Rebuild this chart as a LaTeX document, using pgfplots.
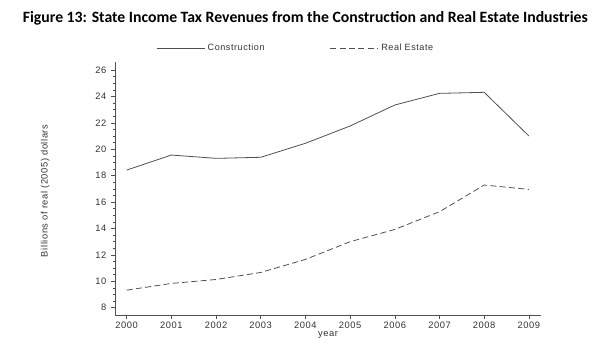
\documentclass[border=0pt]{standalone}
\usepackage{fontspec}
\setmainfont{Liberation Sans}
\newfontfamily\titlefont{Carlito}
\newfontfamily\axfont[LetterSpace=6]{Liberation Sans}
\usepackage{pgfplots}
\pgfplotsset{compat=1.18}
\definecolor{ln}{HTML}{505050}
\definecolor{ax}{HTML}{505050}
\definecolor{tx}{HTML}{333333}
\begin{document}
\begin{tikzpicture}
\useasboundingbox (0pt,0pt) rectangle (450pt,265.5pt);
\node[font=\titlefont\bfseries\fontsize{11.8}{14}\selectfont, text=black] at (229pt,252pt) {Figure 13: State Income Tax Revenues from the Construction and Real Estate Industries};
\begin{axis}[
  at={(86.25pt,29.25pt)}, anchor=south west,
  scale only axis, width=319.5pt, height=190pt,
  xmin=1999.74, xmax=2009.27, ymin=7.45, ymax=26.63,
  axis lines*=left,
  axis line style={ax, line width=0.5pt},
  xtick={2000,...,2009}, ytick={8,10,...,26},
  minor x tick num=4, minor y tick num=3,
  tick align=outside, tick style={ax, line width=0.4pt},
  major tick length=3pt, minor tick length=1.5pt,
  /pgf/number format/assume math mode=true,
  /pgf/number format/1000 sep={},
  ticklabel style={font=\axfont\fontsize{7}{8}\selectfont, text=tx},
  xticklabel style={yshift=1pt},
  xlabel={year}, ylabel={Billions of real (2005) dollars},
  every axis x label/.style={at={(axis description cs:0.5,-0.078)}, anchor=center,
    font=\axfont\fontsize{7}{8}\selectfont, text=tx},
  every axis y label/.style={at={(axis description cs:-0.164,0.49)}, rotate=90, anchor=center,
    font=\axfont\fontsize{7}{8}\selectfont, text=tx},
  legend columns=2,
  legend style={draw=none, fill=none, at={(axis description cs:0.425,1.054)}, anchor=center,
    font=\axfont\fontsize{6.8}{8}\selectfont, text=tx, inner sep=0pt},
  /tikz/every even column/.append style={column sep=47pt},
  legend image code/.code={\draw[#1] (0pt,0pt) -- (36pt,0pt);},
]
\addplot[ln, line width=0.6pt] coordinates {
(2000,18.42) (2001,19.56) (2002,19.31) (2003,19.39) (2004,20.45)
(2005,21.76) (2006,23.35) (2007,24.23) (2008,24.31) (2009,21.0)};
\addlegendentry{Construction}
\addplot[ln, line width=0.6pt, dash pattern=on 4.5pt off 2.5pt] coordinates {
(2000,9.33) (2001,9.84) (2002,10.14) (2003,10.67) (2004,11.66)
(2005,13.0) (2006,13.93) (2007,15.27) (2008,17.29) (2009,16.96)};
\addlegendentry{Real Estate}
\end{axis}
\end{tikzpicture}
\end{document}
